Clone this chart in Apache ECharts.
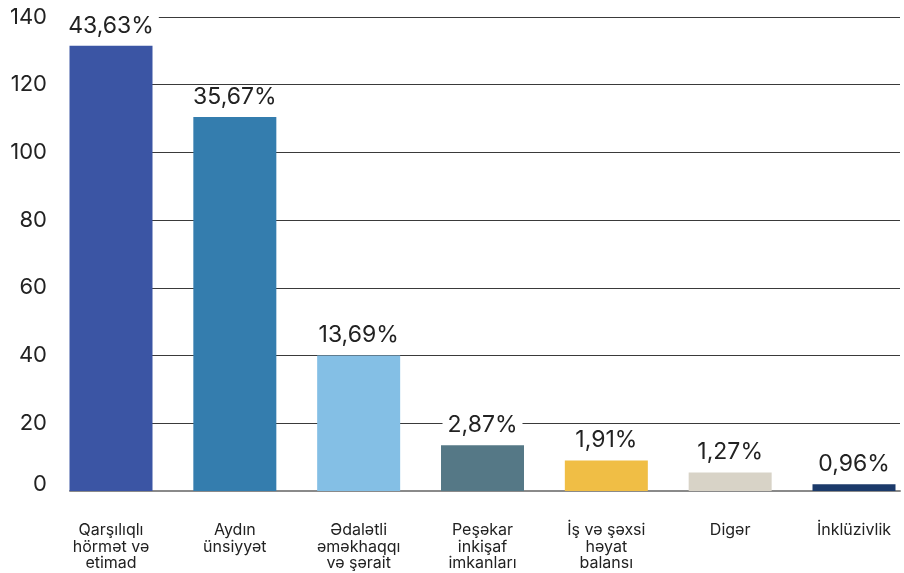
<!DOCTYPE html>
<html>
<head>
<meta charset="utf-8">
<script src="https://cdn.jsdelivr.net/npm/echarts@6/dist/echarts.min.js"></script>
<style>
html,body{margin:0;padding:0;background:#fff;}
#chart{width:904px;height:573px;}
</style>
</head>
<body>
<div id="chart"></div>
<script>
const categories = [
  "Qarşılıqlı\nhörmət və\netimad",
  "Aydın\nünsiyyət",
  "Ədalətli\nəməkhaqqı\nvə şərait",
  "Peşəkar\ninkişaf\nimkanları",
  "İş və şəxsi\nhəyat\nbalansı",
  "Digər",
  "İnklüzivlik"
];
const values = [131.5, 110.5, 40, 13.5, 9, 5.5, 2];
const percentLabels = ["43,63%", "35,67%", "13,69%", "2,87%", "1,91%", "1,27%", "0,96%"];
const barColors = ["#3B55A4", "#347DAE", "#84BFE5", "#557886", "#F0BE45", "#D8D3C7", "#1B3A6A"];
const yTicks = [0, 20, 40, 60, 80, 100, 120, 140];

const font = "Inter, 'Noto Sans', sans-serif";
const chart = echarts.init(document.getElementById('chart'));
chart.setOption({
  animation: false,
  backgroundColor: '#ffffff',
  grid: [
    {left: 70, right: 4, top: 17, bottom: 82},
    {left: 111, right: 50, top: 17, bottom: 82}
  ],
  xAxis: [
    {gridIndex: 0, type: 'value', min: 0, max: 1, show: true,
     axisLabel: {show: false}, axisTick: {show: false}, splitLine: {show: false},
     axisLine: {show: true, lineStyle: {color: '#8a8a8a', width: 2}}},
    {gridIndex: 1, type: 'category', data: categories, boundaryGap: false,
     axisLine: {show: false}, axisTick: {show: false},
     axisLabel: {interval: 0, color: '#222', fontFamily: font, fontSize: 16, lineHeight: 16.5, margin: 31, align: 'center'}}
  ],
  yAxis: [
    {gridIndex: 0, type: 'value', min: yTicks[0], max: yTicks[yTicks.length-1], interval: 20,
     axisLabel: {show: false}, axisLine: {show: false}, axisTick: {show: false},
     splitLine: {show: true, lineStyle: {color: '#3a3a3a', width: 1}}},
    {gridIndex: 1, type: 'value', min: yTicks[0], max: yTicks[yTicks.length-1], interval: 20,
     axisLine: {show: false}, axisTick: {show: false}, splitLine: {show: false},
     axisLabel: {
       color: '#222', fontFamily: font, fontSize: 22, margin: 64,
       formatter: v => v === 0 ? '{z|0}' : String(v),
       rich: {z: {color: '#222', fontFamily: font, fontSize: 22, padding: [0, 0, 14, 0]}}
     }}
  ],
  series: [{
    type: 'bar',
    xAxisIndex: 1, yAxisIndex: 1,
    barWidth: 83,
    clip: false,
    data: values.map((v, i) => ({value: v, itemStyle: {color: barColors[i]}})),
    label: {
      show: true, position: 'top', distance: 8,
      formatter: p => percentLabels[p.dataIndex],
      color: '#222', fontFamily: font, fontSize: 23, lineHeight: 24,
      backgroundColor: '#ffffff', padding: [0, 5]
    }
  }]
});
</script>
</body>
</html>
